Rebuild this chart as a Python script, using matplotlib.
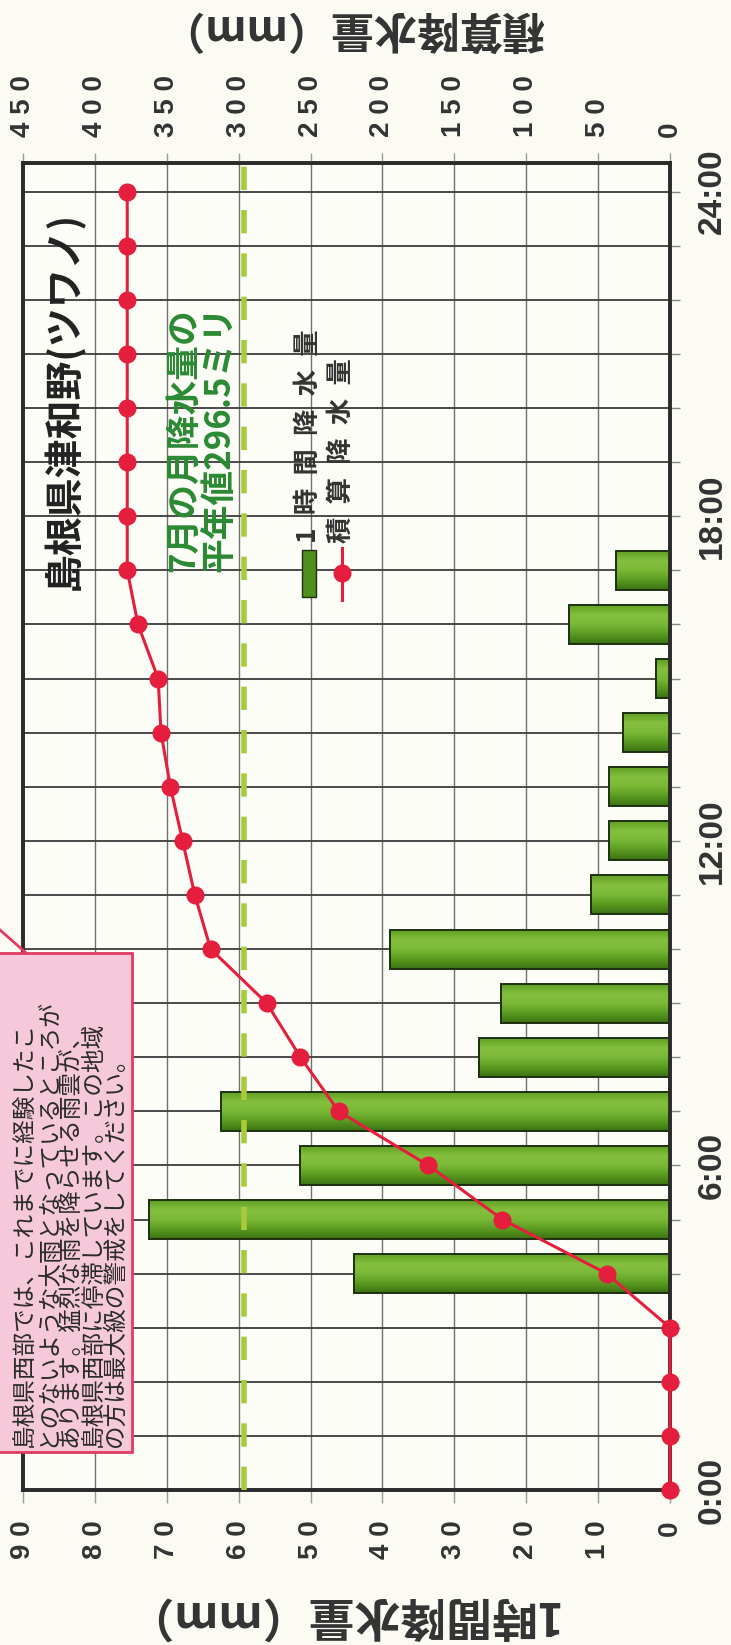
import numpy as np
import matplotlib
matplotlib.use('Agg')
import matplotlib.pyplot as plt
from matplotlib.patches import Rectangle
from matplotlib.lines import Line2D
from matplotlib.colors import LinearSegmentedColormap

plt.rcParams['font.family'] = ['Noto Sans CJK JP', 'DejaVu Sans']

# time axis: 0:00 .. 24:00 every hour
hours = list(range(25))
time_label_pos = [0, 6, 12, 18, 24]
time_labels = ['0:00', '6:00', '12:00', '18:00', '24:00']

# 1-hour rainfall (mm), bar at the end of each hour
bar_hours = [4, 5, 6, 7, 8, 9, 10, 11, 12, 13, 14, 15, 16, 17]
rain_1h = [44, 72.5, 51.5, 62.5, 26.5, 23.5, 39, 11, 8.5, 8.5, 6.5, 2, 14, 7.5]

# accumulated rainfall (mm) at each hour
rain_total = [0, 0, 0, 0, 44, 116.5, 168, 230.5, 257, 280.5, 319.5, 330.5,
              339, 347.5, 354, 356, 370, 377.5, 377.5, 377.5, 377.5, 377.5,
              377.5, 377.5, 377.5]

# July normal monthly rainfall (mm)
july_normal = 296.5

left_ticks = [0, 10, 20, 30, 40, 50, 60, 70, 80, 90]
top_ticks = [0, 50, 100, 150, 200, 250, 300, 350, 400, 450]

notice_lines = [
    '島根県西部では、これまでに経験したこ',
    'とのないような大雨となっているところが',
    'あります。猛烈な雨を降らせる雨雲が、',
    '島根県西部に停滞しています。この地域',
    'の方は最大級の警戒をしてください。',
]

W, H = 731, 1645
fig = plt.figure(figsize=(W / 100, H / 100), dpi=100, facecolor='#fbfbf4')


def fx(px):
    return px / W


def fy(py):
    return 1 - py / H


def spaced(s):
    # the original numbers are set a little wide
    return ' '.join(s)


tick_font = dict(fontfamily=['Liberation Sans', 'DejaVu Sans'], fontweight='bold',
                 color='#333333')

# plot frame (the chart is drawn turned on its side)
ax = fig.add_axes([fx(23), fy(1490), fx(670) - fx(23), fy(163) - fy(1490)])
ax.set_facecolor('#fdfdf8')

# bars with a cylinder-like shading
bar_cmap = LinearSegmentedColormap.from_list(
    'bar', ['#3c7313', '#5a9a20', '#79b836', '#84c03e', '#62a024'])
grad = np.linspace(0, 1, 64).reshape(-1, 1)
bars = ax.barh(bar_hours, rain_1h, height=0.72, color='#5d9c22',
               edgecolor='none', zorder=2)
for b in bars:
    ax.imshow(grad, extent=[b.get_x(), b.get_x() + b.get_width(),
                            b.get_y(), b.get_y() + b.get_height()],
              origin='lower', cmap=bar_cmap, aspect='auto', zorder=2.1)
ax.barh(bar_hours, rain_1h, height=0.72, fill=False, edgecolor='#1d3010',
        linewidth=1.4, zorder=2.2)

ax.set_xlim(90, 0)
ax.set_ylim(0, 24.53)

# grid
ax.set_axisbelow(True)
ax.set_xticks(left_ticks)
ax.set_xticklabels([spaced(str(v)) for v in left_ticks], fontsize=20, **tick_font)
ax.set_yticks(hours)
ylabels = [time_labels[time_label_pos.index(h)] if h in time_label_pos else ''
           for h in hours]
ax.set_yticklabels(ylabels, fontsize=24, **tick_font)
ax.grid(axis='x', color='#707070', lw=1.0)
ax.grid(axis='y', color='#3c3c3c', lw=1.3)
ax.yaxis.tick_right()
ax.tick_params(axis='x', labelrotation=90, length=9, width=1, color='#999999', pad=13)
ax.tick_params(axis='y', labelrotation=90, length=7, width=1, color='#888888', pad=12)
for lbl in ax.get_yticklabels():
    lbl.set_va('center')
for s in ax.spines.values():
    s.set_linewidth(2.6)
    s.set_color('#2b2b2b')

# accumulated rainfall on the second scale
ax2 = ax.twiny()
ax2.set_xlim(450, 0)
ax2.set_xticks(top_ticks)
ax2.set_xticklabels([spaced(str(v)) for v in top_ticks], fontsize=20, **tick_font)
ax2.tick_params(axis='x', labelrotation=90, length=7, width=1, color='#999999', pad=12)
for s in ax2.spines.values():
    s.set_linewidth(2.6)
    s.set_color('#2b2b2b')
ax2.axvline(july_normal, color='#a8cb3a', lw=4, dashes=(4.2, 3.6), zorder=4)
ax2.plot(rain_total, hours, color='#e41e3c', lw=2.2, marker='o', ms=12,
         zorder=5, clip_on=False)

# axis titles (upside down in the turned chart)
fig.text(fx(339), fy(1615), '1時間降水量（mm）', rotation=180, ha='center',
         va='center', fontsize=33, fontweight='bold', color='#333333')
fig.text(fx(352), fy(28), '積算降水量（mm）', rotation=180, ha='center',
         va='center', fontsize=31, fontweight='bold', color='#333333')

# station name
fig.text(fx(63), fy(590), '島根県津和野(ツワノ)', rotation=90, ha='center',
         va='bottom', fontsize=28, fontweight='bold', color='#222222')

# normal value note
fig.text(fx(201), fy(572), '7月の月降水量の\n平年値296.5ミリ', rotation=90,
         ha='center', va='bottom', multialignment='left', fontsize=25,
         fontweight='bold', color='#2b8a33', linespacing=1.0)

# legend (drawn by hand so it can be turned)
fig.add_artist(Rectangle((fx(302), fy(597)), fx(316) - fx(302), fy(550) - fy(597),
                         transform=fig.transFigure, facecolor='#4f8f1c',
                         edgecolor='#1d3010', lw=1))
fig.add_artist(Line2D([fx(342), fx(342)], [fy(600), fy(548)],
                      transform=fig.transFigure, color='#e41e3c', lw=2.2))
fig.add_artist(Line2D([fx(342)], [fy(573)], transform=fig.transFigure,
                      color='#e41e3c', marker='o', ms=12))
fig.text(fx(308), fy(543), '1\u2002時\u2002間\u2002降\u2002水\u2002量', rotation=90,
         ha='center', va='bottom', fontsize=19, fontweight='bold', color='#333333')
fig.text(fx(341), fy(543), '積\u2002算\u2002降\u2002水\u2002量', rotation=90,
         ha='center', va='bottom', fontsize=19, fontweight='bold', color='#333333')

# warning box
fig.add_artist(Rectangle((-0.01, fy(1452)), fx(132) + 0.01, fy(953) - fy(1452),
                         transform=fig.transFigure, facecolor='#f5c9d9',
                         edgecolor='#e23a64', lw=2, zorder=5))
fig.add_artist(Line2D([0, fx(25)], [fy(930), fy(952)], transform=fig.transFigure,
                      color='#e23a64', lw=2, zorder=5))
fig.text(fx(127), fy(1447), '\n'.join(notice_lines), rotation=90, ha='right',
         va='bottom', multialignment='left', fontsize=17, color='#2a2a2a',
         linespacing=0.98, zorder=6)

fig.savefig('out.png', dpi=100, facecolor=fig.get_facecolor())
